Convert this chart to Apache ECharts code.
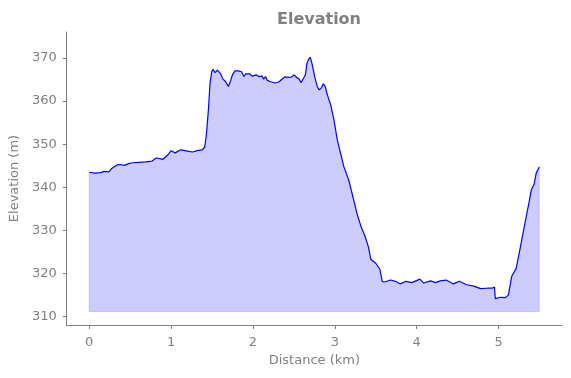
<!DOCTYPE html>
<html>
<head>
<meta charset="utf-8">
<script src="https://cdn.jsdelivr.net/npm/echarts@6/dist/echarts.min.js"></script>
<style>
  html, body { margin: 0; padding: 0; background: #fff; }
  #chart { width: 571px; height: 378px; }
</style>
</head>
<body>
<div id="chart"></div>
<script>
// distance along track (km)
var distance = [
  0.00, 0.07, 0.14, 0.18, 0.20, 0.24, 0.27, 0.30, 0.34, 0.38,
  0.43, 0.48, 0.53, 0.61, 0.69, 0.77, 0.80, 0.83, 0.90, 0.96,
  1.00, 1.05, 1.12, 1.20, 1.26, 1.32, 1.38, 1.41, 1.43, 1.456,
  1.476, 1.496, 1.512, 1.537, 1.566, 1.606, 1.634, 1.667, 1.70, 1.728,
  1.749, 1.78, 1.82, 1.86, 1.89, 1.91, 1.96, 1.99, 2.04, 2.07,
  2.11, 2.13, 2.155, 2.175, 2.195, 2.22, 2.27, 2.32, 2.36, 2.39,
  2.44, 2.47, 2.505, 2.53, 2.56, 2.59, 2.61, 2.64, 2.66, 2.68,
  2.70, 2.72, 2.756, 2.785, 2.81, 2.84, 2.86, 2.88, 2.91, 2.95,
  2.99, 3.03, 3.08, 3.11, 3.17, 3.23, 3.27, 3.32, 3.37, 3.41,
  3.44, 3.50, 3.55, 3.58, 3.62, 3.68, 3.74, 3.80, 3.87, 3.94,
  4.04, 4.085, 4.17, 4.23, 4.29, 4.36, 4.45, 4.52, 4.61, 4.70,
  4.78, 4.86, 4.92, 4.95, 4.96, 5.02, 5.08, 5.12, 5.16, 5.215,
  5.26, 5.31, 5.37, 5.40, 5.435, 5.46, 5.497
]
// elevation (m)
var elevation = [
  343.5, 343.3, 343.4, 343.7, 343.5, 343.6, 344.3, 344.7, 345.2, 345.3,
  345.1, 345.5, 345.7, 345.8, 345.9, 346.1, 346.6, 346.8, 346.5, 347.5,
  348.5, 348.0, 348.7, 348.4, 348.2, 348.5, 348.7, 349.3, 352.0, 358.0,
  364.2, 366.8, 367.4, 366.6, 367.2, 366.3, 365.1, 364.5, 363.4, 364.8,
  366.1, 367.0, 367.0, 366.8, 365.7, 366.3, 366.3, 365.8, 366.1, 365.7,
  365.8, 365.1, 365.7, 364.8, 365.2, 364.5, 364.2, 364.5, 365.2, 365.6,
  365.5, 365.6, 366.1, 365.5, 365.2, 364.3, 364.5, 366.1, 368.8, 369.7,
  370.2, 368.8, 365.5, 363.4, 362.6, 363.2, 364.0, 363.5, 361.4, 359.1,
  355.6, 351.0, 347.1, 344.8, 341.7, 337.1, 334.0, 330.9, 328.6, 326.2,
  323.3, 322.4, 321.0, 318.1, 318.1, 318.5, 318.2, 317.6, 318.2, 317.9,
  318.7, 317.8, 318.3, 317.9, 318.3, 318.5, 317.6, 318.2, 317.4, 317.1,
  316.5, 316.6, 316.6, 316.9, 314.2, 314.5, 314.4, 315.0, 319.3, 321.2,
  325.5, 330.5, 336.3, 339.4, 340.8, 343.3, 344.7
]
var fillBase = 311.2
var xTicks = [0, 1, 2, 3, 4, 5]
var yTicks = [310, 320, 330, 340, 350, 360, 370]

var grey = '#808080'
var font = 'DejaVu Sans'

var profile = distance.map(function (d, i) { return [d, elevation[i]] })
var last = distance.length - 1
var outline = [
  [distance[0], elevation[0]],
  [distance[0], fillBase],
  [distance[last], fillBase],
  [distance[last], elevation[last]]
]

var myChart = echarts.init(document.getElementById('chart'))
myChart.setOption({
  animation: false,
  title: {
    text: 'Elevation',
    left: 314,
    top: 7,
    textAlign: 'center',
    textStyle: { color: grey, fontFamily: font, fontSize: 16, fontWeight: 'bold' }
  },
  grid: { left: 66, right: 9, top: 32, bottom: 53 },
  xAxis: {
    type: 'value',
    min: -0.275,
    max: 5.775,
    name: 'Distance (km)',
    nameLocation: 'middle',
    nameGap: 29,
    nameTextStyle: { color: grey, fontFamily: font, fontSize: 13 },
    axisLine: { show: true, onZero: false, lineStyle: { color: grey, width: 1 } },
    axisTick: { show: true, length: 4, customValues: xTicks, lineStyle: { color: grey } },
    axisLabel: { color: grey, fontFamily: font, fontSize: 13, margin: 11, customValues: xTicks },
    splitLine: { show: false }
  },
  yAxis: {
    type: 'value',
    min: 308.07,
    max: 376.03,
    name: 'Elevation (m)',
    nameLocation: 'middle',
    nameGap: 42,
    nameRotate: 90,
    nameTextStyle: { color: grey, fontFamily: font, fontSize: 13 },
    axisLine: { show: true, onZero: false, lineStyle: { color: grey, width: 1 } },
    axisTick: { show: true, length: 4, customValues: yTicks, lineStyle: { color: grey } },
    axisLabel: { color: grey, fontFamily: font, fontSize: 13, margin: 10, customValues: yTicks },
    splitLine: { show: false }
  },
  series: [
    {
      name: 'Elevation',
      type: 'line',
      data: profile,
      symbol: 'none',
      smooth: false,
      lineStyle: { color: '#0000ff', width: 1.2 },
      areaStyle: { color: '#ccccff', opacity: 1, origin: fillBase },
      z: 3
    },
    {
      name: 'fillEdge',
      type: 'line',
      data: outline,
      symbol: 'none',
      lineStyle: { color: 'rgba(0,0,255,0.15)', width: 1 },
      z: 4
    }
  ]
})
</script>
</body>
</html>
